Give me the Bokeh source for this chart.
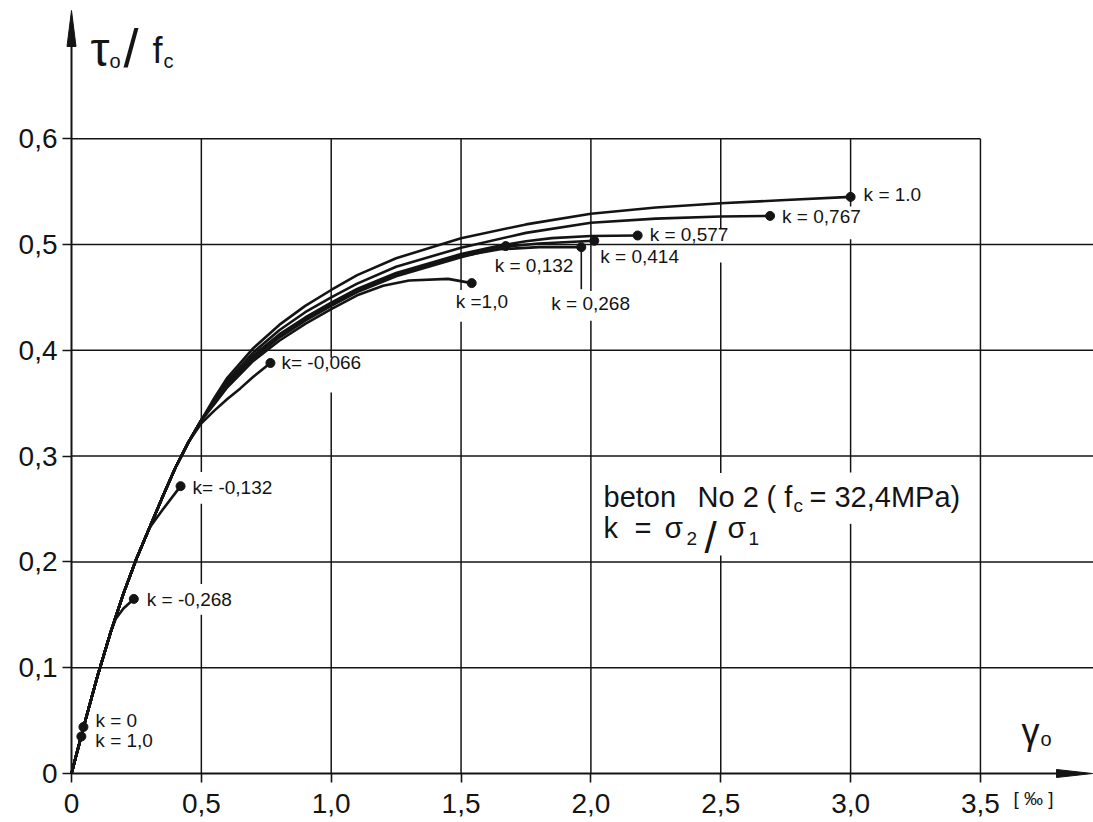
from bokeh.plotting import figure
from bokeh.models import Range1d, FixedTicker, CustomJSTickFormatter, Label
from bokeh.embed import file_html
from bokeh.resources import INLINE

# ---------------- data ----------------
X_TICKS = [0, 0.5, 1.0, 1.5, 2.0, 2.5, 3.0, 3.5]
Y_TICKS = [0, 0.1, 0.2, 0.3, 0.4, 0.5, 0.6]

# common rising branch shared by all curves
BASE_X = [0, 0.05, 0.1, 0.15, 0.2, 0.25, 0.3, 0.35, 0.4, 0.45, 0.5]
BASE_Y = [0, 0.047, 0.092, 0.133, 0.170, 0.203, 0.232, 0.261, 0.289, 0.313, 0.334]

K10A_X = BASE_X + [0.55, 0.6, 0.7, 0.8, 0.9, 1.0, 1.1, 1.25, 1.5, 1.75, 2.0, 2.25, 2.5, 2.75, 3.0]
K10A_Y = BASE_Y + [0.355, 0.374, 0.402, 0.424, 0.442, 0.457, 0.471, 0.487, 0.506, 0.519, 0.529, 0.535, 0.539, 0.542, 0.545]

K0767_X = BASE_X + [0.55, 0.6, 0.7, 0.8, 0.9, 1.0, 1.1, 1.25, 1.5, 1.75, 2.0, 2.25, 2.5, 2.69]
K0767_Y = BASE_Y + [0.353, 0.371, 0.398, 0.419, 0.436, 0.450, 0.463, 0.479, 0.497, 0.511, 0.5205, 0.5245, 0.5265, 0.527]

K0577_X = BASE_X + [0.55, 0.6, 0.7, 0.8, 0.9, 1.0, 1.1, 1.25, 1.5, 1.65, 1.75, 1.85, 2.0, 2.18]
K0577_Y = BASE_Y + [0.352, 0.369, 0.395, 0.415, 0.431, 0.445, 0.458, 0.473, 0.491, 0.499, 0.503, 0.506, 0.508, 0.5085]

K0414_X = BASE_X + [0.55, 0.6, 0.7, 0.8, 0.9, 1.0, 1.1, 1.25, 1.5, 1.65, 1.8, 2.013]
K0414_Y = BASE_Y + [0.351, 0.368, 0.394, 0.414, 0.430, 0.444, 0.457, 0.472, 0.490, 0.4975, 0.501, 0.5035]

K0268_X = BASE_X + [0.55, 0.6, 0.7, 0.8, 0.9, 1.0, 1.1, 1.25, 1.5, 1.65, 1.8, 1.963]
K0268_Y = BASE_Y + [0.351, 0.367, 0.393, 0.413, 0.429, 0.443, 0.456, 0.471, 0.489, 0.4955, 0.4975, 0.4975]

K0132_X = BASE_X + [0.55, 0.6, 0.7, 0.8, 0.9, 1.0, 1.1, 1.25, 1.5, 1.672]
K0132_Y = BASE_Y + [0.350, 0.367, 0.392, 0.412, 0.428, 0.442, 0.455, 0.470, 0.488, 0.4985]

K10B_X = BASE_X + [0.55, 0.6, 0.7, 0.8, 0.9, 1.0, 1.1, 1.2, 1.3, 1.45, 1.541]
K10B_Y = BASE_Y + [0.349, 0.365, 0.390, 0.409, 0.425, 0.439, 0.452, 0.461, 0.466, 0.4675, 0.4635]

KM0066_X = BASE_X[:10] + [0.5, 0.55, 0.6, 0.65, 0.7, 0.766]
KM0066_Y = BASE_Y[:10] + [0.331, 0.343, 0.354, 0.364, 0.375, 0.388]

KM0132_X = BASE_X[:7] + [0.35, 0.42]
KM0132_Y = BASE_Y[:7] + [0.249, 0.2716]

KM0268_X = BASE_X[:4] + [0.17, 0.2, 0.24]
KM0268_Y = BASE_Y[:4] + [0.146, 0.156, 0.165]

K0_X = [0, 0.046]
K0_Y = [0, 0.044]
K10C_X = [0, 0.038]
K10C_Y = [0, 0.035]

K_LABELS = ["k = 1.0", "k = 0,767", "k = 0,577", "k = 0,414", "k = 0,268", "k = 0,132",
            "k =1,0", "k= -0,066", "k= -0,132", "k = -0,268", "k = 0", "k = 1,0"]
SERIES = [(K10A_X, K10A_Y), (K0767_X, K0767_Y), (K0577_X, K0577_Y), (K0414_X, K0414_Y),
          (K0268_X, K0268_Y), (K0132_X, K0132_Y), (K10B_X, K10B_Y), (KM0066_X, KM0066_Y),
          (KM0132_X, KM0132_Y), (KM0268_X, KM0268_Y), (K0_X, K0_Y), (K10C_X, K10C_Y)]

# ---------------- layout ----------------
W, H = 1093, 822
PX_X, PX_Y = 259.7, 1058.0       # pixels per data unit
OX, OY = 71, 773                 # pixel of the origin
X0 = -OX / PX_X
X1 = X0 + W / PX_X
Y0 = -(H - OY) / PX_Y
Y1 = Y0 + H / PX_Y
X_TIP = (1092 - OX) / PX_X
Y_TIP = (OY - 10) / PX_Y
FONT = "Liberation Sans"
INK = "#141414"
BASELINE_SHIFT = 0.37            # em, compensation for alphabetic baseline placement

# label offsets (px) from the curve end dot: text left / middle
LABEL_OFFSETS = [(13, 2), (12, -1), (12, 1), (6, -16), (-30, -56), (-11, -19),
                 (-16, -18), (11, 0), (12, -1), (13, -1), (12, 6), (14, -4)]
LEADER_IDX, LEADER_PX = 4, 42

# drafted gaps in vertical grid lines (data y ranges)
V_GAPS = {0.5: [(0.150, 0.179), (0.255, 0.285)], 1.0: [(0.360, 0.393)],
          1.5: [(0.427, 0.457)], 2.0: [(0.428, 0.456)],
          2.5: [(0.206, 0.284), (0.483, 0.515)], 3.0: [(0.236, 0.2845), (0.505, 0.536)]}

p = figure(width=W, height=H, x_range=Range1d(X0, X1), y_range=Range1d(Y0, Y1),
           output_backend="svg", toolbar_location=None,
           min_border_left=0, min_border_right=0, min_border_top=0, min_border_bottom=0)
p.outline_line_color = None
p.grid.visible = False
p.background_fill_color = "white"
p.border_fill_color = "white"

fmt = CustomJSTickFormatter(code="return tick == 0 ? '0' : tick.toFixed(1).replace('.', ',');")
for ax, ticks in ((p.xaxis, X_TICKS), (p.yaxis, Y_TICKS)):
    ax.fixed_location = 0
    ax.ticker = FixedTicker(ticks=ticks)
    ax.formatter = fmt
    ax.major_tick_in = 0
    ax.major_tick_out = 9
    ax.minor_tick_line_color = None
    ax.axis_line_width = 2
    ax.axis_line_color = INK
    ax.major_tick_line_color = INK
    ax.major_tick_line_width = 1.6
    ax.major_label_text_font = FONT
    ax.major_label_text_font_size = "28px"
    ax.major_label_text_color = INK
p.xaxis.major_label_standoff = 11
p.yaxis.major_label_standoff = 5
p.xaxis.bounds = (0, X_TIP - 20 / PX_X)
p.yaxis.bounds = (0, Y_TIP - 20 / PX_Y)

# grid lines (vertical ones with drafting gaps)
GRID_TOP = Y_TICKS[-1]
vx0, vy0, vy1 = [], [], []
for t in X_TICKS[1:]:
    start = 0.0
    for lo, hi in sorted(V_GAPS.get(t, [])):
        vx0.append(t); vy0.append(start); vy1.append(lo)
        start = hi
    vx0.append(t); vy0.append(start); vy1.append(GRID_TOP)
p.segment(x0=vx0, y0=vy0, x1=vx0, y1=vy1, line_color=INK, line_width=1.5)
hy = Y_TICKS[1:]
hx1 = [X_TICKS[-1] if t == GRID_TOP else X1 for t in hy]
p.segment(x0=[0] * len(hy), y0=hy, x1=hx1, y1=hy, line_color=INK, line_width=1.5)

# arrow heads of the axes
p.patches(xs=[[X_TIP - 36 / PX_X, X_TIP, X_TIP - 36 / PX_X], [-4.5 / PX_X, 0, 4.5 / PX_X]],
          ys=[[4 / PX_Y, 0, -4 / PX_Y], [Y_TIP - 36 / PX_Y, Y_TIP, Y_TIP - 36 / PX_Y]],
          fill_color=INK, line_color=INK, line_width=1)

# curves, end dots and labels
ends_x, ends_y = [], []
for (xs, ys) in SERIES:
    p.line(xs, ys, line_color=INK, line_width=2.6, line_join="round")
    ends_x.append(xs[-1]); ends_y.append(ys[-1])
p.scatter(ends_x, ends_y, size=9, fill_color=INK, line_color=INK)

lx = ends_x[LEADER_IDX]
p.segment(x0=[lx], y0=[ends_y[LEADER_IDX]], x1=[lx], y1=[ends_y[LEADER_IDX] - LEADER_PX / PX_Y],
          line_color=INK, line_width=1.6)

for txt, ex, ey, (dx, dy) in zip(K_LABELS, ends_x, ends_y, LABEL_OFFSETS):
    p.add_layout(Label(x=ex, y=ey, x_offset=dx, y_offset=dy, text=txt, text_font=FONT,
                       text_font_size="19px", text_color=INK, text_align="left",
                       text_baseline="middle"))


def put(text, px, py, size):
    """place a text piece with its baseline at pixel (px, py)"""
    py = py - BASELINE_SHIFT * size
    p.add_layout(Label(x=(px - OX) / PX_X, y=(OY - py) / PX_Y, text=text, text_font=FONT,
                       text_font_size=f"{size}px", text_color=INK, text_align="left",
                       text_baseline="alphabetic"))


# axis titles
put("τ", 90, 67, 48)
put("o", 109, 68, 20)
put("/", 123, 67, 54)
put("f", 152, 63, 36)
put("c", 163, 68, 20)
put("γ", 1021, 744, 36)
put("o", 1040, 746, 20)
put("[ ‰ ]", 1013, 805, 19)

# note
put("beton", 603, 507, 29)
put("No 2", 697, 507, 29)
put("( f", 766, 507, 29)
put("c", 793, 512, 19)
put("= 32,4MPa)", 809, 507, 29)
put("k", 603, 538, 29)
put("=", 634, 538, 29)
put("σ", 664, 538, 30)
put("2", 686, 545, 19)
put("/", 704, 553, 44)
put("σ", 727, 538, 30)
put("1", 748, 545, 19)

open("out.html", "w").write(file_html(p, INLINE))
